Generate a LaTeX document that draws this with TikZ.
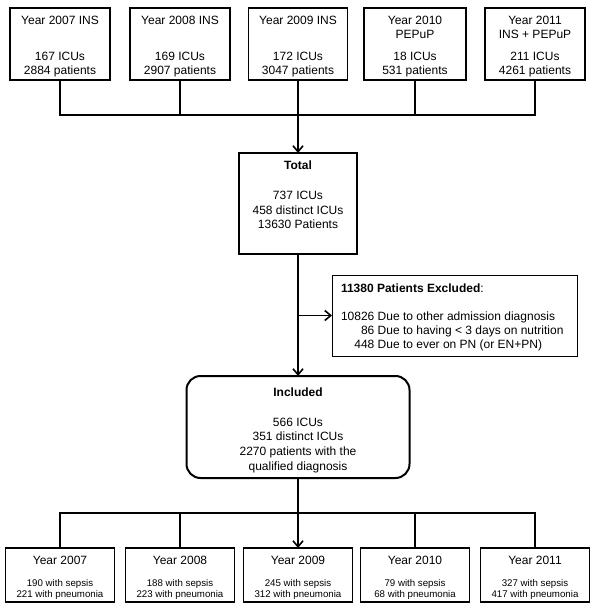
\documentclass[tikz,border=0pt]{standalone}
\usepackage{fontspec}
\setmainfont{Liberation Sans}
\usetikzlibrary{arrows.meta}
\newcommand\bxt[3]{\begin{minipage}[c][#2][t]{#1}\centering #3\end{minipage}}
\newcommand\bxl[3]{\begin{minipage}[c][#2][t]{#1}\raggedright\leftskip=9pt #3\end{minipage}}
\begin{document}
\begin{tikzpicture}[x=1pt,y=-1pt,
  bx/.style={draw, line width=1.6pt, inner sep=0pt, outer sep=0pt, font=\fontsize{12}{14}\selectfont},
  ln/.style={line width=1.6pt},
  arr/.style={line width=1.6pt, -{Straight Barb[length=6pt,width=10pt]}}]
\useasboundingbox (0,0) rectangle (600,612);
% top boxes
\node[bx] (y07) at (60,44) {\bxt{100pt}{72pt}{\rule{0pt}{17pt}Year 2007 INS\\[22pt]167 ICUs\\2884 patients}};
\node[bx] (y08) at (180,44) {\bxt{100pt}{72pt}{\rule{0pt}{17pt}Year 2008 INS\\[22pt]169 ICUs\\2907 patients}};
\node[bx] (y09) at (298,44) {\bxt{99pt}{72pt}{\rule{0pt}{17pt}Year 2009 INS\\[22pt]172 ICUs\\3047 patients}};
\node[bx] (y10) at (415,44) {\bxt{102pt}{72pt}{\rule{0pt}{17pt}Year 2010\\PEPuP\\[8pt]18 ICUs\\531 patients}};
\node[bx] (y11) at (535,44) {\bxt{100pt}{72pt}{\rule{0pt}{17pt}Year 2011\\INS + PEPuP\\[8pt]211 ICUs\\4261 patients}};
\coordinate (hT) at (0,115);
\draw[ln] (y07.south) -- (y07.south |- hT) -- (y11.south |- hT) -- (y11.south);
\draw[ln] (y08.south) -- (y08.south |- hT);
\draw[ln] (y10.south) -- (y10.south |- hT);
% total
\node[bx] (tot) at (298,203.5) {\bxt{118pt}{101pt}{\fontsize{12}{14.5}\selectfont\rule{0pt}{17pt}\textbf{Total}\\[15.5pt]737 ICUs\\458 distinct ICUs\\13630 Patients}};
\draw[ln] (y09.south) -- (y09.south |- hT);
\draw[arr] (y09.south |- hT) -- (tot.north);
% excluded
\node[bx, line width=1pt] (exc) at (454.5,315.5) {\bxl{245pt}{81pt}{\rule{0pt}{17pt}\textbf{11380 Patients Excluded}:\\[14.5pt]10826 Due to other admission diagnosis\\\hphantom{000}86 Due to having < 3 days on nutrition\\\hphantom{00}448 Due to ever on PN (or EN+PN)}};
% included
\node[bx, line width=2pt, rounded corners=14pt] (inc) at (298,427) {\bxt{223pt}{102pt}{\fontsize{12}{14.7}\selectfont\rule{0pt}{20pt}\textbf{Included}\\[15.3pt]566 ICUs\\351 distinct ICUs\\2270 patients with the\\qualified diagnosis}};
\draw[arr] (tot.south) -- (inc.north);
\draw[arr] (tot.south |- exc.west) -- (exc.west);
% bottom boxes
\node[bx] (b07) at (60,575) {\bxt{109pt}{54pt}{\fontsize{9.7}{11}\selectfont\rule{0pt}{16pt}{\fontsize{12}{11}\selectfont Year 2007}\\[11.5pt]190 with sepsis\\221 with pneumonia}};
\node[bx] (b08) at (180,575) {\bxt{109pt}{54pt}{\fontsize{9.7}{11}\selectfont\rule{0pt}{16pt}{\fontsize{12}{11}\selectfont Year 2008}\\[11.5pt]188 with sepsis\\223 with pneumonia}};
\node[bx] (b09) at (298,575) {\bxt{109pt}{54pt}{\fontsize{9.7}{11}\selectfont\rule{0pt}{16pt}{\fontsize{12}{11}\selectfont Year 2009}\\[11.5pt]245 with sepsis\\312 with pneumonia}};
\node[bx] (b10) at (415,575) {\bxt{109pt}{54pt}{\fontsize{9.7}{11}\selectfont\rule{0pt}{16pt}{\fontsize{12}{11}\selectfont Year 2010}\\[11.5pt]79 with sepsis\\68 with pneumonia}};
\node[bx] (b11) at (535,575) {\bxt{109pt}{54pt}{\fontsize{9.7}{11}\selectfont\rule{0pt}{16pt}{\fontsize{12}{11}\selectfont Year 2011}\\[11.5pt]327 with sepsis\\417 with pneumonia}};
\coordinate (hB) at (0,513);
\draw[ln] (b07.north) -- (b07.north |- hB) -- (b11.north |- hB) -- (b11.north);
\draw[ln] (b08.north) -- (b08.north |- hB);
\draw[ln] (b10.north) -- (b10.north |- hB);
\draw[arr] (inc.south) -- (b09.north);
\end{tikzpicture}
\end{document}
